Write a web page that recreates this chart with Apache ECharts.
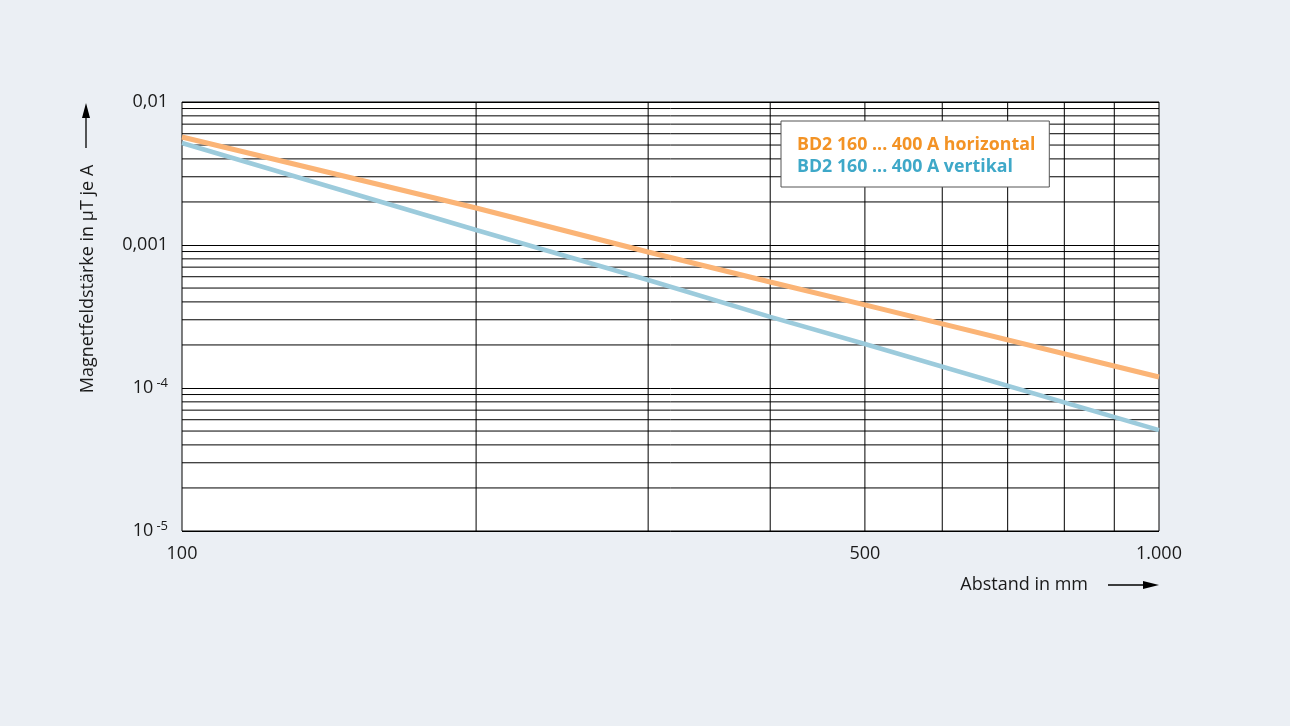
<!DOCTYPE html>
<html>
<head>
<meta charset="utf-8">
<script src="https://cdn.jsdelivr.net/npm/echarts@6/dist/echarts.min.js"></script>
<style>
html,body{margin:0;padding:0;background:#ebeff4;}
#chart{width:1290px;height:726px;}
</style>
</head>
<body>
<div id="chart"></div>
<script>
// Data (log-log)
const distances = [100, 200, 300, 400, 500, 1000];
const horizontal = [0.00569, 0.001815, 0.000893, 0.000551, 0.000381, 0.0001194];
const vertikal = [0.00517, 0.001273, 0.000569, 0.000314, 0.000203, 0.0000508];
const seriesNames = ['BD2 160 ... 400 A horizontal', 'BD2 160 ... 400 A vertikal'];
const xLabelValues = [100, 500, 1000];
const xLabelText = {100: '100', 500: '500', 1000: '1.000'};
const xMinorGrid = [200, 300, 400, 500, 600, 700, 800, 900];
const yMinorMultipliers = [2, 3, 4, 5, 6, 7, 8, 9];
const yDecades = [1e-5, 1e-4, 1e-3];
const yTitle = 'Magnetfeldstärke in µT je A';
const xTitle = 'Abstand in mm';

const font = 'Open Sans';
const chart = echarts.init(document.getElementById('chart'));

function pairs(xs, ys) { return xs.map((x, i) => [x, ys[i]]); }

// Grid segments (minor lines) as one broken line series
const gridData = [];
xMinorGrid.forEach(v => { gridData.push([v, 1e-5], [v, 1e-2], '-'); });
yDecades.forEach(d => yMinorMultipliers.forEach(k => {
  const v = +(k * d).toPrecision(3);
  gridData.push([100, v], [1000, v], '-');
}));

chart.setOption({
  backgroundColor: '#ebeff4',
  animation: false,
  textStyle: { fontFamily: font },
  grid: {
    left: 182, top: 102, right: 131, bottom: 195,
    show: true, backgroundColor: '#ffffff', borderColor: '#000', borderWidth: 1
  },
  legend: {
    orient: 'vertical',
    left: 781, top: 121,
    padding: [13, 14, 9, 11],
    itemGap: 0,
    itemWidth: 0, itemHeight: 0,
    backgroundColor: '#ffffff',
    borderColor: '#555', borderWidth: 1,
    selectedMode: false,
    textStyle: { fontSize: 17.8, fontWeight: 'bold', lineHeight: 22, fontFamily: font },
    data: [
      { name: seriesNames[0], icon: 'rect', textStyle: { color: '#f39325' } },
      { name: seriesNames[1], icon: 'rect', textStyle: { color: '#3ea8c8' } }
    ]
  },
  xAxis: {
    type: 'log', logBase: 10, min: 100, max: 1000,
    axisLine: { show: false },
    axisTick: { show: false },
    splitLine: { show: false },
    axisLabel: {
      customValues: xLabelValues,
      formatter: v => xLabelText[Math.round(v)] || '',
      fontSize: 18, color: '#1a1a1a', margin: 14, fontFamily: font,
      showMinLabel: true, showMaxLabel: true
    }
  },
  yAxis: {
    type: 'log', logBase: 10, min: 1e-5, max: 1e-2,
    axisLine: { show: false },
    axisTick: { show: false },
    splitLine: { show: true, lineStyle: { color: '#000', width: 1 } },
    axisLabel: {
      fontSize: 18, color: '#1a1a1a', margin: 14, fontFamily: font,
      formatter: v => {
        const e = Math.round(Math.log10(v));
        if (e === -2) return '{b|0,01}';
        if (e === -3) return '{b|0,001}';
        return '{b|10}{s|' + e + '}';
      },
      rich: {
        b: { fontSize: 18, color: '#1a1a1a', fontFamily: font, lineHeight: 22 },
        s: { fontSize: 13, color: '#1a1a1a', fontFamily: font, verticalAlign: 'top', lineHeight: 13, padding: [0, 0, 0, 3] }
      }
    }
  },
  series: [
    {
      name: '__grid', type: 'line', data: gridData, silent: true, z: 1,
      showSymbol: false, symbol: 'none', connectNulls: false,
      lineStyle: { color: '#000', width: 1 },
      emphasis: { disabled: true }, tooltip: { show: false }
    },
    {
      name: seriesNames[0], type: 'line', data: pairs(distances, horizontal),
      showSymbol: false, symbol: 'none', z: 3,
      lineStyle: { color: '#fbb476', width: 5 }, itemStyle: { color: '#f39325' }
    },
    {
      name: seriesNames[1], type: 'line', data: pairs(distances, vertikal),
      showSymbol: false, symbol: 'none', z: 3,
      lineStyle: { color: '#9ccbdc', width: 4.5 }, itemStyle: { color: '#3ea8c8' }
    }
  ],
  graphic: [
    {
      type: 'text', x: 88, y: 279, rotation: Math.PI / 2,
      style: { text: yTitle, fontSize: 18, fontFamily: font, fill: '#1a1a1a', align: 'center', verticalAlign: 'middle' }
    },
    { type: 'line', shape: { x1: 86, y1: 148, x2: 86, y2: 112 }, style: { stroke: '#000', lineWidth: 1.3 } },
    { type: 'polygon', shape: { points: [[86, 103], [82, 118], [90, 118]] }, style: { fill: '#000' } },
    {
      type: 'text', x: 1088, y: 585,
      style: { text: xTitle, fontSize: 18, fontFamily: font, fill: '#1a1a1a', align: 'right', verticalAlign: 'middle' }
    },
    { type: 'line', shape: { x1: 1108, y1: 585, x2: 1146, y2: 585 }, style: { stroke: '#000', lineWidth: 1.3 } },
    { type: 'polygon', shape: { points: [[1159, 585], [1143, 581], [1143, 589]] }, style: { fill: '#000' } }
  ]
});
</script>
</body>
</html>
